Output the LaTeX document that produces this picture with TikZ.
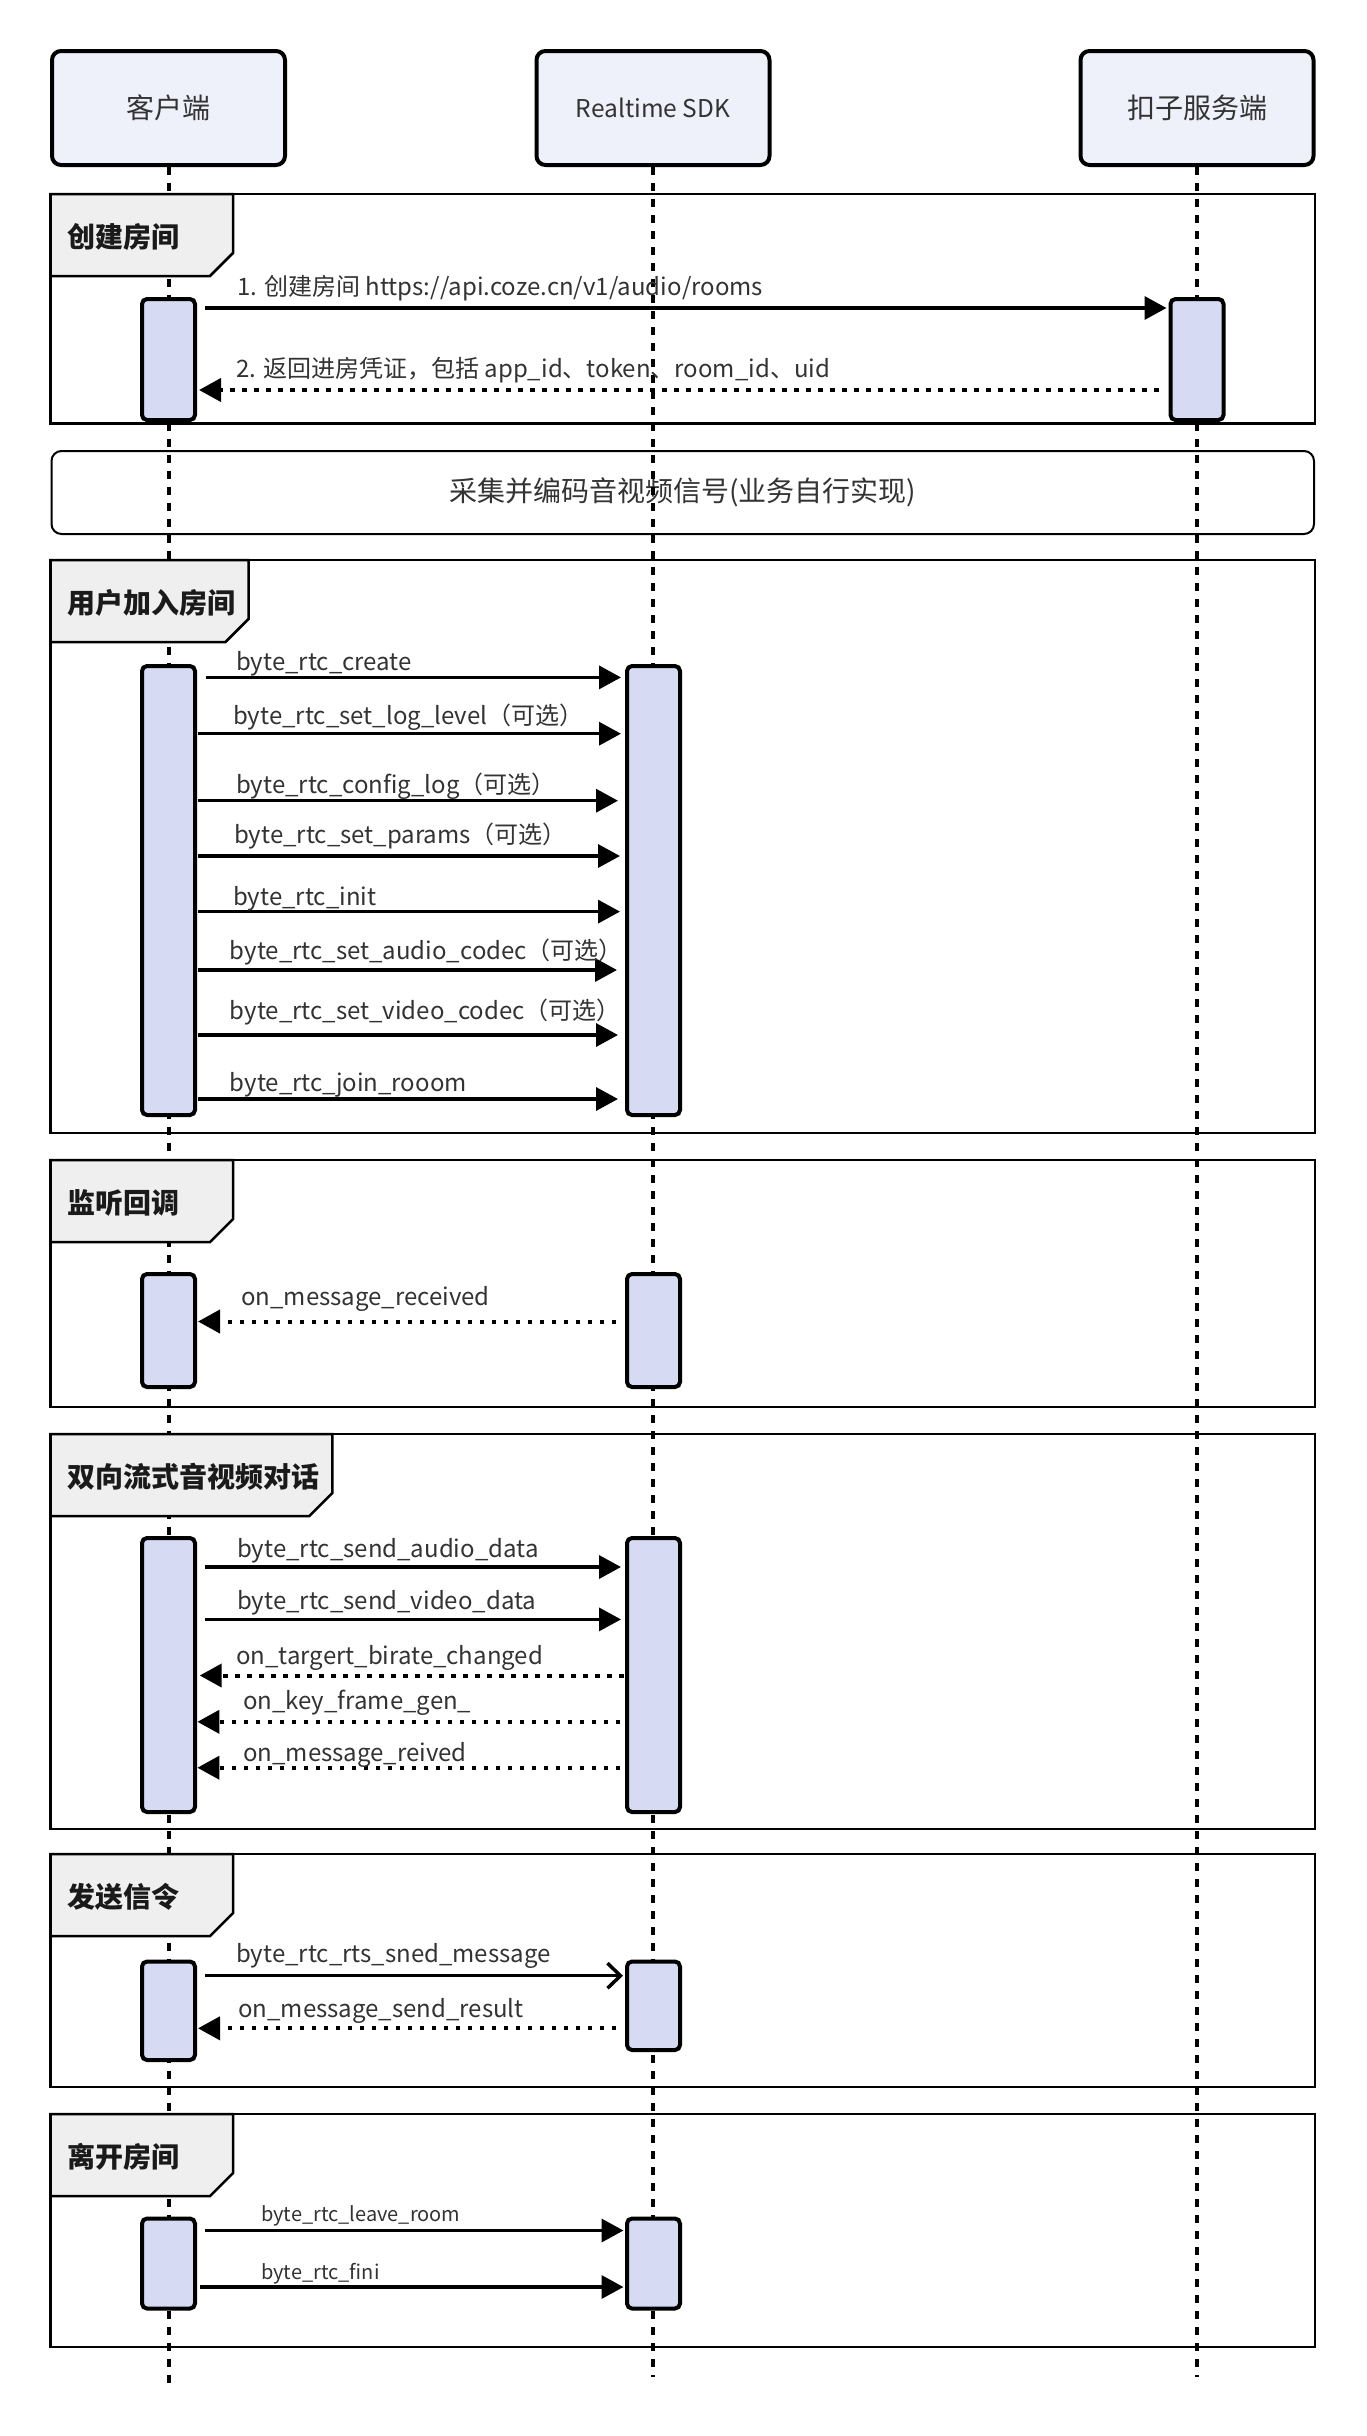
\documentclass[tikz,border=0pt]{standalone}
\usepackage{fontspec}
\setmainfont{Noto Sans CJK SC}
\usetikzlibrary{arrows.meta}
\definecolor{partfill}{HTML}{EEF1FA}
\definecolor{barfill}{HTML}{D6DAF2}
\definecolor{tabfill}{HTML}{EFEFEF}
\definecolor{txt}{HTML}{333333}
\definecolor{ttl}{HTML}{1A1A1A}
\newcommand\hfont{\fontsize{28}{34}\selectfont}
\newcommand\hlfont{\fontsize{24.5}{30}\selectfont}
\newcommand\tfont{\fontsize{28}{34}\selectfont\bfseries}
\newcommand\lfont{\fontsize{24}{29}\selectfont}
\newcommand\sfont{\fontsize{20}{24}\selectfont}
\newcommand\sectframe[2]{\draw[frame] (50.5,#1) rectangle (1315,#2);}
\newcommand\secttab[4]{%
  \filldraw[tab] (50.5,#1) -- (#2,#1) -- (#2,#1+59) -- (#2-23,#1+82) -- (50.5,#1+82) -- cycle;
  \node[title] (#3) at (67,#1+42.5) {#4};}
\begin{document}
\begin{tikzpicture}[x=1pt,y=-1pt,
  part/.style={draw, line width=4pt, rounded corners=9pt, fill=partfill, minimum width=233pt, minimum height=114pt, text=txt, font=\hfont, inner sep=0pt},
  actbar/.style={draw, line width=4pt, rounded corners=5pt, fill=barfill, minimum width=53pt, inner sep=0pt},
  lifeline/.style={line width=4pt, dash pattern=on 8pt off 8pt},
  frame/.style={line width=2.5pt},
  tab/.style={line width=2.5pt, fill=tabfill},
  title/.style={anchor=west, font=\tfont, text=ttl, inner sep=0pt},
  msg/.style={line width=3.5pt, -{Triangle[length=22pt,width=23pt]}},
  ret/.style={line width=4pt, dash pattern=on 4.5pt off 7.5pt, -{Triangle[length=22pt,width=23pt]}},
  openmsg/.style={line width=3.5pt, -{Straight Barb[length=13pt,width=25pt]}},
  lbl/.style={anchor=base west, inner sep=0pt, font=\lfont, text=txt},
  slbl/.style={anchor=base west, inner sep=0pt, font=\sfont, text=txt},
]
\useasboundingbox (0,0) rectangle (1366,2436);
\fill[white] (0,0) rectangle (1366,2436);

% frames
\sectframe{194}{423.6}
\sectframe{560}{1133}
\sectframe{1160}{1407}
\sectframe{1434}{1829}
\sectframe{1854}{2087}
\sectframe{2114}{2347}

% note
\node[draw, line width=2pt, rounded corners=10pt, minimum width=1262.5pt, minimum height=83pt, font=\hfont, text=txt, inner sep=0pt] (note) at (682.75,492.5) {采集并编码音视频信号(业务自行实现)};

% participants
\node[part] (client) at (168.5,108) {客户端};
\node[part, font=\hlfont] (sdk) at (653,108) {Realtime SDK};
\node[part] (server) at (1197,108) {扣子服务端};

% lifelines
\coordinate (cEnd) at (168.5,2383);
\coordinate (sEnd) at (653,2377);
\coordinate (kEnd) at (1197,2377);
\draw[lifeline] (client.south) -- (cEnd);
\draw[lifeline] (sdk.south) -- (sEnd);
\draw[lifeline] (server.south) -- (kEnd);

% tabs
\secttab{194}{233}{t1}{创建房间}
\secttab{560}{248.5}{t3}{用户加入房间}
\secttab{1160}{233}{t4}{监听回调}
\secttab{1434}{332.4}{t5}{双向流式音视频对话}
\secttab{1854}{233}{t6}{发送信令}
\secttab{2114}{233}{t7}{离开房间}

% ---- group 1
\node[actbar, minimum height=121pt] (c1) at (168.5,359.5) {};
\node[actbar, minimum height=121pt] (k1) at (1197,359.5) {};
\draw[msg, shorten <=8pt, shorten >=2pt] (c1.east |- 0,308) -- (k1.west |- 0,308);
\node[lbl] (l1) at (237,295) {1. 创建房间 https://api.coze.cn/v1/audio/rooms};
\draw[ret, shorten <=10pt, shorten >=2pt] (k1.west |- 0,390) -- (c1.east |- 0,390);
\node[lbl] (l2) at (236,377) {2. 返回进房凭证，包括 app\_id、token、room\_id、uid};

% ---- group 3
\node[actbar, minimum height=449pt] (c3) at (168.5,890.5) {};
\node[actbar, minimum height=449pt] (s3) at (653.5,890.5) {};
\draw[msg, shorten <=8.6pt, shorten >=4pt] (c3.east |- 0,677.4) -- (s3.west |- 0,677.4);
\node[lbl] (l3a) at (236,670.5) {byte\_rtc\_create};
\draw[msg, shorten <=1pt, shorten >=4pt] (c3.east |- 0,733.7) -- (s3.west |- 0,733.7);
\node[lbl] (l3b) at (233,724) {byte\_rtc\_set\_log\_level（可选）};
\draw[msg, shorten <=1pt, shorten >=7pt] (c3.east |- 0,800.7) -- (s3.west |- 0,800.7);
\node[lbl] (l3c) at (236,793) {byte\_rtc\_config\_log（可选）};
\draw[msg, shorten <=1pt, shorten >=5pt] (c3.east |- 0,856) -- (s3.west |- 0,856);
\node[lbl] (l3d) at (234,843) {byte\_rtc\_set\_params（可选）};
\draw[msg, shorten <=1pt, shorten >=5pt] (c3.east |- 0,911.6) -- (s3.west |- 0,911.6);
\node[lbl] (l3e) at (233,905) {byte\_rtc\_init};
\draw[msg, shorten <=1pt, shorten >=8pt] (c3.east |- 0,970) -- (s3.west |- 0,970);
\node[lbl] (l3f) at (229.6,959.5) {byte\_rtc\_set\_audio\_codec（可选）};
\draw[msg, shorten <=1pt, shorten >=7pt] (c3.east |- 0,1035) -- (s3.west |- 0,1035);
\node[lbl] (l3g) at (229.6,1019) {byte\_rtc\_set\_video\_codec（可选）};
\draw[msg, shorten <=1pt, shorten >=7pt] (c3.east |- 0,1099) -- (s3.west |- 0,1099);
\node[lbl] (l3h) at (229.6,1091.5) {byte\_rtc\_join\_rooom};

% ---- group 4
\node[actbar, minimum height=113pt] (c4) at (168.5,1330.5) {};
\node[actbar, minimum height=113pt] (s4) at (653.5,1330.5) {};
\draw[ret, shorten <=9pt, shorten >=1pt] (s4.west |- 0,1321.5) -- (c4.east |- 0,1321.5);
\node[lbl] (l4) at (241,1305.8) {on\_message\_received};

% ---- group 5
\node[actbar, minimum height=274pt] (c5) at (168.5,1675) {};
\node[actbar, minimum height=274pt] (s5) at (653.5,1675) {};
\draw[msg, shorten <=8pt, shorten >=4pt] (c5.east |- 0,1567) -- (s5.west |- 0,1567);
\node[lbl] (l5a) at (237,1557) {byte\_rtc\_send\_audio\_data};
\draw[msg, shorten <=8pt, shorten >=4pt] (c5.east |- 0,1619.4) -- (s5.west |- 0,1619.4);
\node[lbl] (l5b) at (237,1609.8) {byte\_rtc\_send\_video\_data};
\draw[ret, shorten <=1.5pt, shorten >=2.7pt] (s5.west |- 0,1675.5) -- (c5.east |- 0,1675.5);
\node[lbl] (l5c) at (236,1664.9) {on\_targert\_birate\_changed};
\draw[ret, shorten <=5pt, shorten >=0.4pt] (s5.west |- 0,1721.8) -- (c5.east |- 0,1721.8);
\node[lbl] (l5d) at (243,1709.4) {on\_key\_frame\_gen\_};
\draw[ret, shorten <=5pt, shorten >=0.4pt] (s5.west |- 0,1767.7) -- (c5.east |- 0,1767.7);
\node[lbl] (l5e) at (243,1761.3) {on\_message\_reived};

% ---- group 6
\node[actbar, minimum height=98.5pt] (c6) at (168.5,2010.75) {};
\node[actbar, minimum height=88.5pt] (s6) at (653.5,2005.75) {};
\draw[openmsg, shorten <=8pt, shorten >=2pt] (c6.east |- 0,1975.7) -- (s6.west |- 0,1975.7);
\node[lbl] (l6a) at (236,1962.6) {byte\_rtc\_rts\_sned\_message};
\draw[ret, shorten <=9pt, shorten >=1pt] (s6.west |- 0,2028.3) -- (c6.east |- 0,2028.3);
\node[lbl] (l6b) at (238,2017.5) {on\_message\_send\_result};

% ---- group 7
\node[actbar, minimum height=90pt] (c7) at (168.5,2263.5) {};
\node[actbar, minimum height=90pt] (s7) at (653.5,2263.5) {};
\draw[msg, shorten <=8pt, shorten >=1.5pt] (c7.east |- 0,2230.5) -- (s7.west |- 0,2230.5);
\node[slbl] (l7a) at (261,2221) {byte\_rtc\_leave\_room};
\draw[msg, shorten <=2.7pt, shorten >=1.5pt] (c7.east |- 0,2287) -- (s7.west |- 0,2287);
\node[slbl] (l7b) at (261,2279.2) {byte\_rtc\_fini};
\end{tikzpicture}
\end{document}
